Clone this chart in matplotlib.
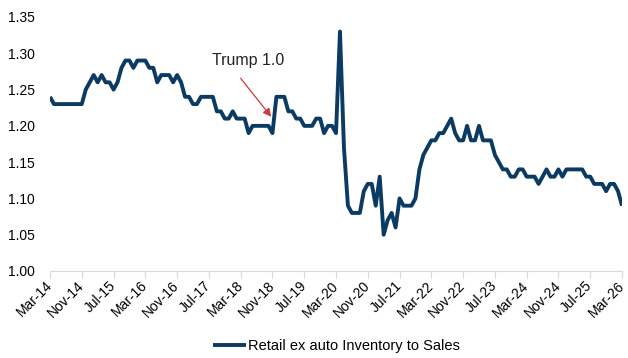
import numpy as np
import pandas as pd
import matplotlib.pyplot as plt

# Retail ex auto inventory-to-sales ratio, monthly Mar-14 .. Mar-26
dates = pd.date_range('2014-03-01', '2026-03-01', freq='MS')
ratio = [
    1.24, 1.23, 1.23, 1.23, 1.23, 1.23, 1.23, 1.23, 1.23, 1.25,
    1.26, 1.27, 1.26, 1.27, 1.26, 1.26, 1.25, 1.26, 1.28, 1.29,
    1.29, 1.28, 1.29, 1.29, 1.29, 1.28, 1.28, 1.26, 1.27, 1.27,
    1.27, 1.26, 1.27, 1.26, 1.24, 1.24, 1.23, 1.23, 1.24, 1.24,
    1.24, 1.24, 1.22, 1.22, 1.21, 1.21, 1.22, 1.21, 1.21, 1.21,
    1.19, 1.20, 1.20, 1.20, 1.20, 1.20, 1.19, 1.24, 1.24, 1.24,
    1.22, 1.22, 1.21, 1.21, 1.20, 1.20, 1.20, 1.21, 1.21, 1.19,
    1.20, 1.20, 1.19, 1.33, 1.17, 1.09, 1.08, 1.08, 1.08, 1.11,
    1.12, 1.12, 1.09, 1.13, 1.05, 1.07, 1.08, 1.06, 1.10, 1.09,
    1.09, 1.09, 1.10, 1.14, 1.16, 1.17, 1.18, 1.18, 1.19, 1.19,
    1.20, 1.21, 1.19, 1.18, 1.18, 1.20, 1.18, 1.18, 1.20, 1.18,
    1.18, 1.18, 1.16, 1.15, 1.14, 1.14, 1.13, 1.13, 1.14, 1.14,
    1.13, 1.13, 1.13, 1.12, 1.13, 1.14, 1.13, 1.13, 1.14, 1.13,
    1.14, 1.14, 1.14, 1.14, 1.14, 1.13, 1.13, 1.12, 1.12, 1.12,
    1.11, 1.12, 1.12, 1.11, 1.09,
]
series_name = 'Retail ex auto Inventory to Sales'
y_ticks = [1.00, 1.05, 1.10, 1.15, 1.20, 1.25, 1.30, 1.35]

months = np.arange(len(dates))
tick_idx = months[::8]
tick_labels = [d.strftime('%b-%y') for d in dates[::8]]

plt.rcParams['font.family'] = ['Liberation Sans', 'DejaVu Sans']

fig = plt.figure(figsize=(6.28, 3.58), dpi=100)
ax = fig.add_axes([50/628, 87/358, 572/628, 254/358])

ax.plot(months, ratio, color='#0b3a63', lw=2.8, solid_joinstyle='round',
        solid_capstyle='butt', label=series_name)

ax.set_xlim(0, len(dates) - 1)
ax.set_ylim(1.00, 1.35)
ax.set_yticks(y_ticks)
ax.set_yticklabels([f'{v:.2f}' for v in y_ticks], fontsize=10)
ax.set_xticks(tick_idx)
# anchor rotated dates at the middle of their right edge so the last one fits
ax.set_xticklabels(tick_labels, fontsize=10, rotation=45, ha='right',
                   va='center', rotation_mode='anchor')

for s in ['top', 'right', 'left']:
    ax.spines[s].set_visible(False)
ax.spines['bottom'].set_color('#d9d9d9')
ax.tick_params(axis='x', length=5, color='#d9d9d9', pad=4)
ax.tick_params(axis='y', length=0, pad=11)

# label and arrow pointing at the Dec-18 jump
ax.text(50, 1.2906, 'Trump 1.0', fontsize=11.5, color='#222222',
        ha='center', va='center')
ax.annotate('', xy=(55.7, 1.2125), xytext=(48.0, 1.2655),
            arrowprops=dict(arrowstyle='-|>', color='#d03a3a', lw=0.9,
                            mutation_scale=12, shrinkA=0, shrinkB=0))

ax.legend(loc='upper center', bbox_to_anchor=(0.5, -0.215), frameon=False,
          fontsize=10.5, handlelength=2.3, handletextpad=0.1)

fig.savefig('out.png', dpi=100)
